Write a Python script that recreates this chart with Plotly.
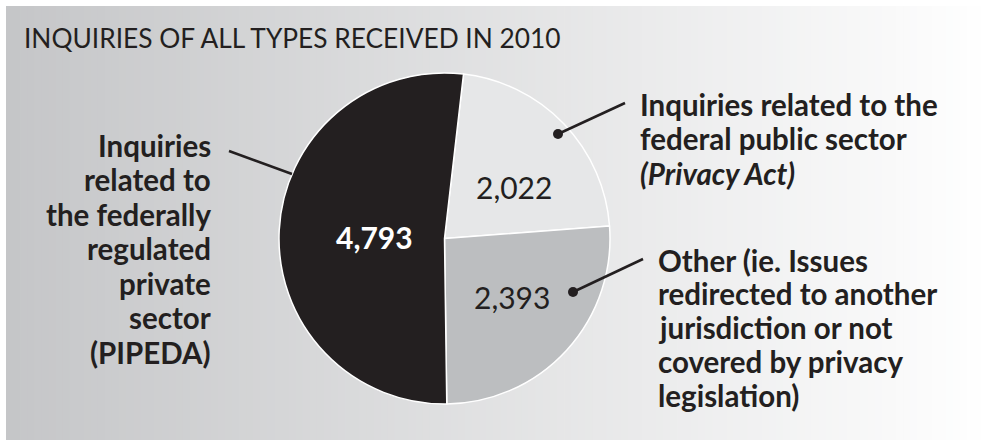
import plotly.graph_objects as go

W, H = 995, 441

# ---- data ----
categories = [
    "Inquiries related to the federal public sector (Privacy Act)",
    "Other (ie. Issues redirected to another jurisdiction or not covered by privacy legislation)",
    "Inquiries related to the federally regulated private sector (PIPEDA)",
]
values = [2022, 2393, 4793]
slice_colors = ["#e6e7e8", "#bcbec0", "#231f20"]
value_font_colors = ["#231f20", "#231f20", "#ffffff"]
value_weights = ["normal", "normal", "bold"]
title_text = "INQUIRIES OF ALL TYPES RECEIVED IN 2010"
label_lines = [
    ["Inquiries related to the", "federal public sector", "<i>(Privacy Act)</i>"],
    ["Other (ie. Issues", "redirected to another", "jurisdiction or not",
     "covered by privacy", "legislation)"],
    ["Inquiries", "related to", "the federally", "regulated", "private",
     "sector", "(PIPEDA)"],
]

INK = "#231f20"
FONT = "Lato"


def px(x):
    return x / W


def py(y):
    return 1 - y / H


fig = go.Figure()

# pie geometry (pixels)
cx, cy, r = 444.5, 238.5, 165.5
fig.add_trace(go.Pie(
    labels=categories,
    values=values,
    sort=False,
    direction="clockwise",
    rotation=6.6,
    marker=dict(colors=slice_colors, line=dict(color="#ffffff", width=1.5)),
    textinfo="none",
    hoverinfo="label+value",
    showlegend=False,
    domain=dict(x=[px(cx - r), px(cx + r)], y=[py(cy + r), py(cy - r)]),
))

shapes = []
# gradient background
n = 140
x0, x1 = 6, W
c0 = (197, 198, 200)
c1 = (255, 255, 255)
for i in range(n):
    t = i / (n - 1)
    col = tuple(int(round(c0[k] + (c1[k] - c0[k]) * t)) for k in range(3))
    xa = x0 + (x1 - x0) * i / n
    xb = x0 + (x1 - x0) * (i + 1) / n + 0.8
    shapes.append(dict(type="rect", xref="paper", yref="paper", layer="below",
                       x0=px(xa), x1=px(min(xb, W)), y0=py(440), y1=py(6),
                       fillcolor="rgb(%d,%d,%d)" % col, line=dict(width=0)))

# leader lines
leaders = [((558, 134), (625, 103)), ((573, 292), (643, 259)), ((292, 174), (229, 151))]
for (a, b) in leaders:
    shapes.append(dict(type="line", xref="paper", yref="paper",
                       x0=px(a[0]), y0=py(a[1]), x1=px(b[0]), y1=py(b[1]),
                       line=dict(color=INK, width=2.5)))
# dots
for (dx, dy) in [(558, 134), (573, 292)]:
    rr = 5
    shapes.append(dict(type="circle", xref="paper", yref="paper",
                       x0=px(dx - rr), x1=px(dx + rr), y0=py(dy + rr), y1=py(dy - rr),
                       fillcolor=INK, line=dict(width=0)))

annotations = []
# title
annotations.append(dict(text=title_text, x=px(22), y=py(38), xref="paper", yref="paper",
                        xanchor="left", yanchor="middle", showarrow=False,
                        font=dict(family=FONT, size=26.3, color=INK)))
# value labels
value_pos = [(514, 187), (512, 297), (374, 237)]
for v, (x, y), fc, wgt in zip(values, value_pos, value_font_colors, value_weights):
    annotations.append(dict(text=f"{v:,}", x=px(x), y=py(y), xref="paper", yref="paper",
                            xanchor="center", yanchor="middle", showarrow=False,
                            font=dict(family=FONT, size=30, color=fc, weight=wgt)))
# category labels, one annotation per line for tight leading
label_pos = [(638, 104, 34.5, "left"), (656, 260, 33.8, "left"), (213, 145, 34.5, "right")]
for lines, (x, y0, step, al) in zip(label_lines, label_pos):
    for j, line in enumerate(lines):
        annotations.append(dict(text=line, x=px(x), y=py(y0 + j * step),
                                xref="paper", yref="paper",
                                xanchor=al, yanchor="middle", align=al, showarrow=False,
                                font=dict(family=FONT, size=29.5, color=INK, weight="bold")))

fig.update_layout(
    width=W, height=H,
    margin=dict(l=0, r=0, t=0, b=0),
    paper_bgcolor="#ffffff",
    plot_bgcolor="rgba(0,0,0,0)",
    shapes=shapes,
    annotations=annotations,
)

fig.write_html("out.html")
